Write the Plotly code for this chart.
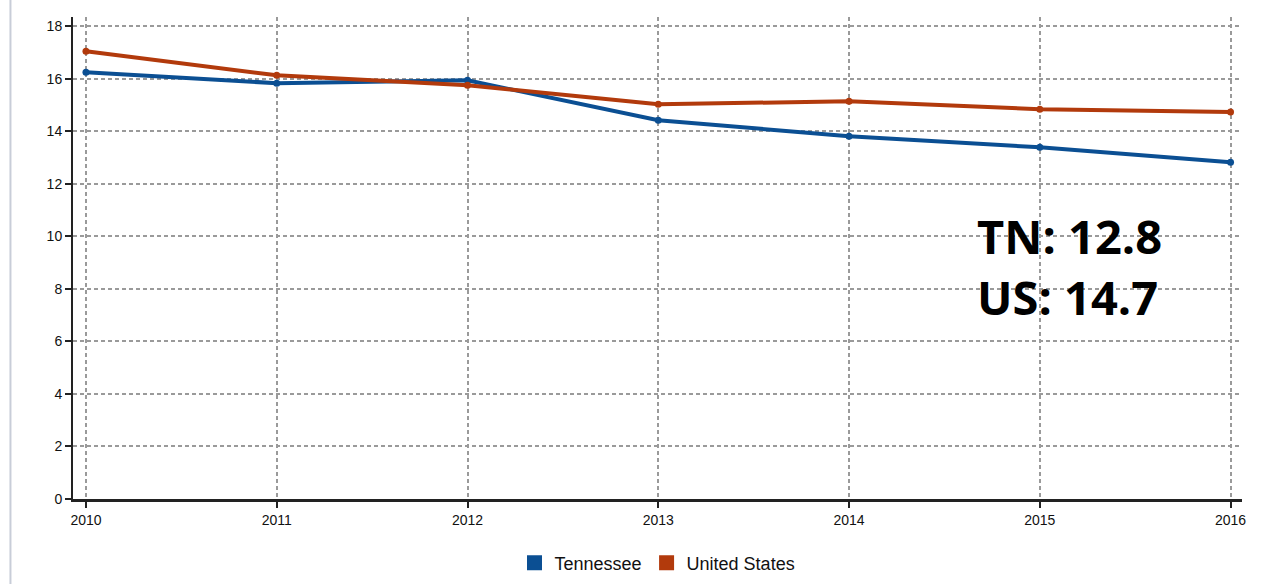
import plotly.graph_objects as go

years = [2010, 2011, 2012, 2013, 2014, 2015, 2016]
tennessee = [16.25, 15.83, 15.94, 14.42, 13.81, 13.39, 12.82]
united_states = [17.05, 16.13, 15.75, 15.03, 15.14, 14.84, 14.73]
y_ticks = [0, 2, 4, 6, 8, 10, 12, 14, 16, 18]
annotation_text = "TN: 12.8<br>US: 14.7"

TN_COLOR = "#0b4f93"
US_COLOR = "#b23a0c"

fig = go.Figure()
for name, vals, col in [("Tennessee", tennessee, TN_COLOR),
                        ("United States", united_states, US_COLOR)]:
    fig.add_trace(go.Scatter(
        x=years, y=vals, name=name, mode="lines+markers", showlegend=False,
        line=dict(color=col, width=4), marker=dict(size=7, color=col),
    ))
    fig.add_trace(go.Scatter(
        x=[None], y=[None], name=name, mode="markers", showlegend=True,
        marker=dict(symbol="square", size=15, color=col),
    ))

fig.update_layout(
    width=1267, height=584,
    margin=dict(l=73, r=25, t=17, b=85),
    paper_bgcolor="white", plot_bgcolor="white",
    font=dict(family="Liberation Sans, Arial", color="#111"),
    showlegend=True,
    legend=dict(orientation="h", x=0.5, xanchor="center",
                yref="container", y=0.036, yanchor="middle",
                font=dict(size=18, color="#111"), itemwidth=30,
                tracegroupgap=0),
    xaxis=dict(
        range=[2009.932, 2016.06], tickvals=years, ticktext=[str(y) for y in years],
        showline=True, linecolor="#222", linewidth=3, ticks="outside", ticklen=6,
        tickwidth=2, tickcolor="#222", tickfont=dict(size=14, color="#111"),
        showgrid=True, gridcolor="#9a9a9a", griddash="4px,3px", gridwidth=1.5,
        zeroline=False,
    ),
    yaxis=dict(
        range=[0, 18.35], tickvals=y_ticks,
        showline=True, linecolor="#222", linewidth=2, ticks="outside", ticklen=6,
        tickwidth=2, tickcolor="#222", tickfont=dict(size=14, color="#111"),
        showgrid=True, gridcolor="#9a9a9a", griddash="4px,3px", gridwidth=1.5,
        zeroline=False,
    ),
    shapes=[dict(type="line", xref="paper", yref="paper", x0=-0.0535, x1=-0.0535,
                 y0=-0.25, y1=1.1, line=dict(color="#c8cdd8", width=2))],
    annotations=[dict(
        text=annotation_text, xref="x", yref="y", x=2014.66, y=6.4,
        xanchor="left", yanchor="bottom", showarrow=False, align="left",
        font=dict(family="Open Sans", size=47, color="black", weight="bold"),
    )],
)
fig.write_html("out.html")
